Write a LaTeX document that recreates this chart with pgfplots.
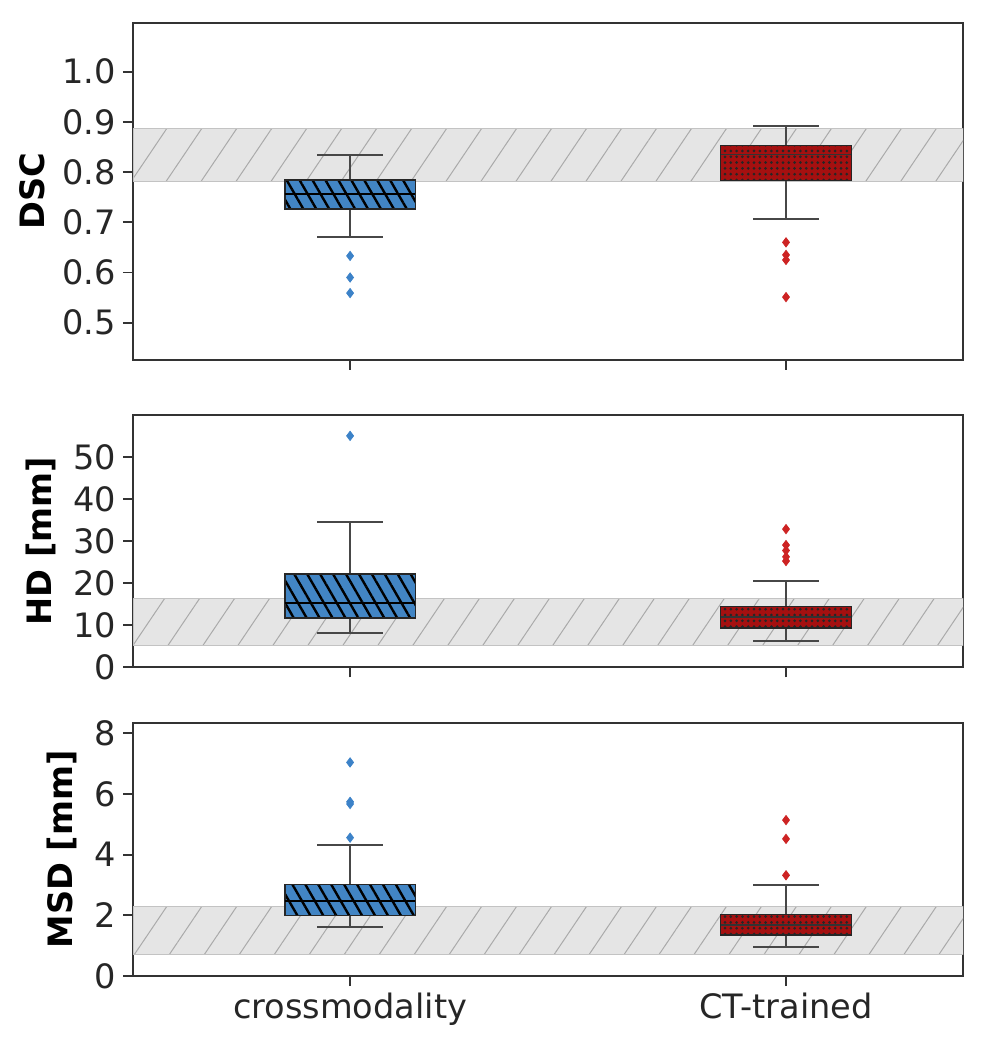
\documentclass[border=0pt]{standalone}
\usepackage{fontspec}
\setmainfont{DejaVu Sans}
\usepackage{pgfplots}
\pgfplotsset{compat=1.18}
\usepgfplotslibrary{statistics}
\usetikzlibrary{patterns,patterns.meta}

\definecolor{cblue}{RGB}{66,133,196}
\definecolor{cred}{RGB}{165,16,16}
\definecolor{oblue}{RGB}{60,130,200}
\definecolor{ored}{RGB}{205,35,35}
\definecolor{bandfill}{RGB}{229,229,229}
\definecolor{bandline}{RGB}{170,170,170}

\pgfplotsset{
  panel/.style={
    scale only axis, width=415pt,
    xmin=0.502, xmax=2.406, xtick={1,2},
    axis line style={black!80, line width=0.9pt},
    every tick/.style={black!80, line width=0.9pt},
    major tick length=5pt, tick align=outside,
    xtick pos=bottom, ytick pos=left,
    ticklabel style={font=\fontsize{16.8}{20}\selectfont, text=black!85},
    /pgf/number format/assume math mode=true,
    ylabel style={font=\bfseries\fontsize{16.8}{20}\selectfont, yshift=2pt},
    boxplot/draw direction=y,
  },
  bluebox/.style={
    color=oblue, mark=diamond*, mark size=2.3pt, mark options={fill=oblue, draw=oblue},
    boxplot/every box/.style={draw=black!85, line width=0.8pt, fill=cblue,
      postaction={pattern={Lines[angle=-60,distance=5.6pt,line width=1.2pt]}, pattern color=black}},
    boxplot/every whisker/.style={draw=black!72, line width=1pt},
    boxplot/every median/.style={draw=black, line width=1pt},
  },
  redbox/.style={
    color=ored, mark=diamond*, mark size=2.3pt, mark options={fill=ored, draw=ored},
    boxplot/every box/.style={draw=black!85, line width=0.8pt, fill=cred,
      postaction={pattern={Dots[distance=2.9pt,radius=0.75pt]}, pattern color=black!85}},
    boxplot/every whisker/.style={draw=black!72, line width=1pt},
    boxplot/every median/.style={draw=black!80, line width=0.8pt},
  },
  band/.style={draw=bandline!70, line width=0.3pt, fill=bandfill,
    postaction={pattern={Lines[angle=56,distance=14.5pt,line width=0.5pt]}, pattern color=bandline}},
}

\begin{document}
\begin{tikzpicture}
\useasboundingbox (0,0) rectangle (493.5pt,525pt);

% ---------- DSC ----------
\begin{axis}[panel, at={(66.5pt,345pt)}, anchor=south west, height=168.5pt,
  ymin=0.4257, ymax=1.097, ytick={0.5,0.6,0.7,0.8,0.9,1.0},
  yticklabel style={/pgf/number format/.cd, fixed, fixed zerofill, precision=1},
  xticklabels={,,}, ylabel={DSC}]
\addplot[band] coordinates {(0.502,0.781) (2.406,0.781) (2.406,0.887) (0.502,0.887)} -- cycle;
\addplot[bluebox, boxplot prepared={draw position=1, lower whisker=0.670, lower quartile=0.726,
  median=0.756, upper quartile=0.784, upper whisker=0.834, box extend=0.3, whisker extend=0.15}]
  table[row sep=\\, y index=0] {0.633\\ 0.590\\ 0.559\\};
\addplot[redbox, boxplot prepared={draw position=2, lower whisker=0.707, lower quartile=0.783,
  median=0.835, upper quartile=0.853, upper whisker=0.892, box extend=0.3, whisker extend=0.15}]
  table[row sep=\\, y index=0] {0.660\\ 0.635\\ 0.625\\ 0.551\\};
\end{axis}

% ---------- HD ----------
\begin{axis}[panel, at={(66.5pt,191.35pt)}, anchor=south west, height=126.15pt,
  ymin=0, ymax=60.07, ytick={0,10,20,30,40,50},
  xticklabels={,,}, ylabel={HD [mm]}]
\addplot[band] coordinates {(0.502,5.3) (2.406,5.3) (2.406,16.4) (0.502,16.4)} -- cycle;
\addplot[bluebox, boxplot prepared={draw position=1, lower whisker=8.2, lower quartile=11.8,
  median=15.2, upper quartile=22.2, upper whisker=34.5, box extend=0.3, whisker extend=0.15}]
  table[row sep=\\, y index=0] {55.1\\};
\addplot[redbox, boxplot prepared={draw position=2, lower whisker=6.3, lower quartile=9.3,
  median=12.0, upper quartile=14.5, upper whisker=20.6, box extend=0.3, whisker extend=0.15}]
  table[row sep=\\, y index=0] {32.9\\ 29.1\\ 27.8\\ 26.3\\ 25.3\\};
\end{axis}

% ---------- MSD ----------
\begin{axis}[panel, at={(66.5pt,37pt)}, anchor=south west, height=126.65pt,
  ymin=0, ymax=8.35, ytick={0,2,4,6,8},
  xticklabels={crossmodality,CT-trained}, ylabel={MSD [mm]}]
\addplot[band] coordinates {(0.502,0.73) (2.406,0.73) (2.406,2.29) (0.502,2.29)} -- cycle;
\addplot[bluebox, boxplot prepared={draw position=1, lower whisker=1.62, lower quartile=2.0,
  median=2.46, upper quartile=3.02, upper whisker=4.31, box extend=0.3, whisker extend=0.15}]
  table[row sep=\\, y index=0] {7.04\\ 5.74\\ 5.67\\ 4.56\\};
\addplot[redbox, boxplot prepared={draw position=2, lower whisker=0.95, lower quartile=1.35,
  median=1.68, upper quartile=2.03, upper whisker=3.0, box extend=0.3, whisker extend=0.15}]
  table[row sep=\\, y index=0] {5.14\\ 4.52\\ 3.32\\};
\end{axis}
\end{tikzpicture}
\end{document}
